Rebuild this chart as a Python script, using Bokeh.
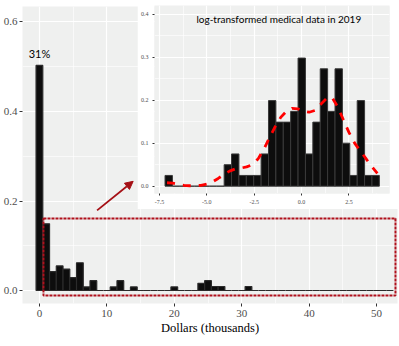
from bokeh.plotting import figure
from bokeh.models import (Range1d, FixedTicker, PrintfTickFormatter, BoxAnnotation,
                          Arrow, NormalHead, Label, ColumnDataSource)
from bokeh.core.properties import value
from bokeh.embed import file_html
from bokeh.resources import INLINE

# ---------------- data ----------------
# main histogram: bins of 1 thousand dollars, centred on integers
dollar_bins = list(range(0, 53))
dollar_share = [0.503, 0.149, 0.042, 0.055, 0.048, 0.029, 0.062, 0.008, 0.022, 0.0,
                0.0, 0.008, 0.022, 0.0, 0.008, 0.0, 0.0, 0.0, 0.0, 0.0,
                0.008, 0.0, 0.0, 0.0, 0.016, 0.022, 0.009, 0.009, 0.0, 0.0,
                0.0, 0.009, 0.0, 0.0, 0.0, 0.0, 0.0, 0.0, 0.0, 0.0,
                0.0, 0.0, 0.0, 0.0, 0.0, 0.0, 0.0, 0.0, 0.0, 0.0,
                0.0, 0.0, 0.0]
peak_label = ["31%"]

x_ticks = [0, 10, 20, 30, 40, 50]
x_minor = [5, 15, 25, 35, 45]
y_ticks = [0.0, 0.2, 0.4, 0.6]
y_minor = [0.1, 0.3, 0.5]

# inset: log-transformed data histogram (density) + density curve
log_bins = [-7.01, -6.62, -6.23, -5.84, -5.45, -5.06, -4.67, -4.28, -3.89, -3.50,
            -3.11, -2.72, -2.33, -1.94, -1.55, -1.16, -0.77, -0.38, 0.01, 0.40,
            0.79, 1.18, 1.57, 1.96, 2.35, 2.74, 3.13, 3.52, 3.91]
log_density = [0.025, 0.0, 0.0, 0.0, 0.0, 0.0, 0.0, 0.0, 0.050, 0.075,
               0.025, 0.025, 0.025, 0.075, 0.199, 0.149, 0.149, 0.174, 0.298, 0.075,
               0.149, 0.273, 0.174, 0.273, 0.100, 0.025, 0.199, 0.025, 0.025]
log_bin_width = 0.39

kde_x = [-7.1, -6.8, -6.5, -6.2, -5.9, -5.6, -5.3, -5.0, -4.7, -4.4, -4.1, -3.8, -3.5,
         -3.2, -2.9, -2.6, -2.3, -2.0, -1.7, -1.4, -1.1, -0.8, -0.5, -0.2, 0.1, 0.4,
         0.7, 1.0, 1.3, 1.6, 1.9, 2.2, 2.5, 2.8, 3.1, 3.4, 3.7, 4.0]
kde_y = [0.008, 0.007, 0.004, 0.002, 0.001, 0.001, 0.002, 0.005, 0.010, 0.018, 0.027,
         0.035, 0.040, 0.042, 0.045, 0.050, 0.063, 0.085, 0.112, 0.138, 0.160, 0.174,
         0.181, 0.180, 0.174, 0.172, 0.176, 0.190, 0.203, 0.207, 0.185, 0.155, 0.125,
         0.100, 0.082, 0.064, 0.046, 0.030]

inset_x_ticks = [-7.5, -5.0, -2.5, 0.0, 2.5]
inset_x_minor = [-6.25, -3.75, -1.25, 1.25, 3.75]
inset_y_ticks = [0.0, 0.1, 0.2, 0.3, 0.4]
inset_y_minor = [0.05, 0.15, 0.25, 0.35]

inset_title = "log-transformed medical data in 2019"

# zoom box and arrow (data units of main plot)
box_left, box_right, box_bottom, box_top = 0.6, 52.8, -0.011, 0.161
arrow_start = (8.55, 0.179)
arrow_end = (13.9, 0.244)

PANEL = "#EFF0EF"
AX_TEXT = "#4D4D4D"
SERIF = "Liberation Serif"


def style_axes(fig, xt, xm, yt, ym, size, tick_len, standoff):
    fig.xaxis.ticker = FixedTicker(ticks=xt, minor_ticks=xm)
    fig.yaxis.ticker = FixedTicker(ticks=yt, minor_ticks=ym)
    for ax in (fig.xaxis[0], fig.yaxis[0]):
        ax.formatter = PrintfTickFormatter(format="%.1f")
        ax.axis_line_color = None
        ax.major_tick_in = 0
        ax.major_tick_out = tick_len
        ax.major_tick_line_color = "#333333"
        ax.minor_tick_line_color = None
        ax.major_label_text_font = SERIF
        ax.major_label_text_font_size = size
        ax.major_label_text_color = AX_TEXT
        ax.major_label_standoff = standoff
    for g in (fig.xgrid[0], fig.ygrid[0]):
        g.grid_line_color = "white"
        g.grid_line_width = 1.2
        g.minor_grid_line_color = "white"
        g.minor_grid_line_width = 0.6


# ---------------- main figure ----------------
p = figure(width=399, height=338, x_range=Range1d(-2.51, 53.1),
           y_range=Range1d(-0.029, 0.6346), output_backend="svg",
           toolbar_location=None, min_border_left=20, min_border_right=2,
           min_border_top=6, min_border_bottom=35,
           background_fill_color=PANEL, border_fill_color="white",
           outline_line_color=None)
style_axes(p, x_ticks, x_minor, y_ticks, y_minor, "11px", 3, 2)
p.yaxis.major_label_standoff = 1
p.xaxis.formatter = PrintfTickFormatter(format="%d")
p.xaxis.axis_label = "Dollars (thousands)"
p.xaxis.axis_label_text_font = SERIF
p.xaxis.axis_label_text_font_size = "12.5px"
p.xaxis.axis_label_text_font_style = "normal"
p.xaxis.axis_label_text_color = "black"
p.xaxis.axis_label_standoff = 1

src = ColumnDataSource(dict(x=dollar_bins, top=dollar_share))
p.vbar(x="x", top="top", bottom=0, width=1, source=src,
       fill_color="#0d0d0d", line_color="#2b2b2b", line_width=1.2)

p.text(x=[dollar_bins[0]], y=[dollar_share[0]], text=peak_label,
       text_font=value("Lato"), text_font_size="11px", text_align="center",
       text_baseline="bottom", y_offset=-5, text_color="black")

p.add_layout(BoxAnnotation(left=box_left, right=box_right, bottom=box_bottom,
                           top=box_top, fill_alpha=0, fill_color=None,
                           line_color="#B0101C", line_alpha=1.0,
                           line_dash="3 1", line_width=2))
p.add_layout(Arrow(x_start=arrow_start[0], y_start=arrow_start[1],
                   x_end=arrow_end[0], y_end=arrow_end[1],
                   line_color="#A50F15", line_width=1.8,
                   end=NormalHead(size=8, fill_color="#A50F15",
                                  line_color="#A50F15")))

# ---------------- inset figure ----------------
q = figure(width=262, height=209, x_range=Range1d(-7.76, 4.64),
           y_range=Range1d(-0.017, 0.4202), output_backend="svg",
           toolbar_location=None, min_border_left=13, min_border_right=10,
           min_border_top=5, min_border_bottom=16,
           background_fill_color=PANEL, border_fill_color="white",
           outline_line_color=None)
style_axes(q, inset_x_ticks, inset_x_minor, inset_y_ticks, inset_y_minor,
           "6px", 2, 2)

isrc = ColumnDataSource(dict(x=log_bins, top=log_density))
q.vbar(x="x", top="top", bottom=0, width=log_bin_width, source=isrc,
       fill_color="#0d0d0d", line_color="#3a3a3a", line_width=1)
q.line(kde_x, kde_y, line_color="#FF0000", line_width=2.8, line_dash="8 8")
q.add_layout(Label(x=-1.2, y=0.389, text=inset_title, text_font="Lato",
                   text_font_size="10px", text_align="center",
                   text_baseline="middle", text_color="black"))

# place both figures absolutely; the inset sits on top of the main figure
p.styles = {"position": "absolute", "left": "0px", "top": "0px"}
q.styles = {"position": "absolute", "left": "137px", "top": "0px"}

open("out.html", "w").write(file_html([p, q], INLINE))
